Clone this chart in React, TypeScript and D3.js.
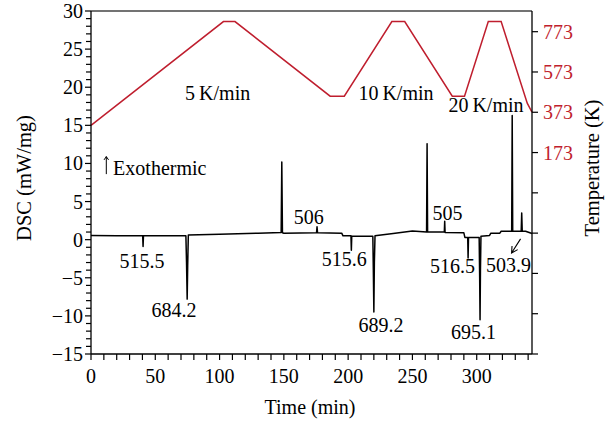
import React from "react";
import * as d3 from "d3";

const W = 609;
const H = 421;

// DSC trace (time in min, heat flow in mW/mg)
const dscTime = [
  0, 20, 40.2, 40.5, 40.8, 60, 73.8, 74.3, 74.8, 75.2, 75.7, 100, 130, 147.9, 148.4, 148.9, 150,
  175.4, 175.8, 176.2, 195, 196, 202.2, 202.5, 202.8, 219.2, 219.6, 220.0, 220.4, 220.9, 235, 250,
  261.0, 261.4, 261.8, 274.8, 275.1, 275.4, 290, 290.8, 293.0, 293.3, 293.6, 301.9, 302.3, 302.6,
  302.9, 303.3, 310, 311, 318, 319, 327.2, 327.6, 328.0, 334.6, 335.0, 335.4, 338, 343,
];
const dscValue = [
  0.55, 0.5, 0.5, -0.9, 0.5, 0.5, 0.5, -3.0, -7.8, -3.4, 0.6, 0.7, 0.85, 0.95, 10.2, 0.9, 0.85,
  0.9, 1.7, 0.9, 0.85, 0.5, 0.5, -1.4, 0.45, 0.45, -4.0, -9.5, -3.0, 0.5, 0.8, 1.15,
  1.0, 12.6, 1.0, 1.0, 2.4, 0.95, 0.9, 0.3, 0.3, -2.4, 0.3, 0.3, -5.0, -10.5,
  -4.0, 0.45, 0.55, 0.85, 0.85, 1.1, 1.1, 16.3, 1.1, 1.1, 3.5, 1.1, 1.1, 0.8,
];

// Temperature program (time in min, temperature in K)
const tempTime = [0, 103, 112, 186, 197, 234, 244, 281, 290.5, 309, 319, 339.3, 343];
const tempKelvin = [308, 823, 823, 453, 453, 823, 823, 453, 453, 823, 823, 418, 373];

// Axes
const xTicks = [0, 50, 100, 150, 200, 250, 300];
const xMinorTicks = d3.range(0, 341, 10);
const yTicks = [-15, -10, -5, 0, 5, 10, 15, 20, 25, 30];
const yMinorTicks = d3.range(-15, 31, 1);
const tempTicks = [773, 573, 373, 173];
const tempUnlabeledTicks = [-27, -227, -427, -627, -827];

// Peak annotations (anchor in data units)
const peakLabels = ["515.5", "684.2", "506", "515.6", "689.2", "505", "516.5", "695.1", "503.9"];
const peakLabelTime = [39.7, 64.6, 169.4, 197, 225.5, 277.3, 281.2, 297.5, 324.8];
const peakLabelValue = [-3.7, -10.1, 2.06, -3.5, -12.1, 2.6, -4.4, -13.0, -4.2];

const rateLabels = ["5\u2009K/min", "10\u2009K/min", "20\u2009K/min"];
const rateLabelTime = [73.2, 208, 278];
const rateLabelValue = [18.3, 18.3, 16.8];

const exoLabel = "Exothermic";
const exoTime = 17.2;
const exoValue = 8.5;
// up arrow in front of "Exothermic": bottom -> top (data units)
const exoArrowTime = [11.9, 11.9];
const exoArrowValue = [8.6, 10.9];

// arrow near 503.9: tail -> tip
const arrowTime = [334.1, 327.1];
const arrowValue = [0.1, -1.75];

const RED = "#bf1e2e";
const FONT = "'Liberation Serif', 'Times New Roman', serif";

function arrowPath(tx: number, ty: number, hx: number, hy: number, hl: number, spread: number) {
  const ang = Math.atan2(ty - hy, tx - hx);
  const a = [hx + hl * Math.cos(ang - spread), hy + hl * Math.sin(ang - spread)];
  const b = [hx + hl * Math.cos(ang + spread), hy + hl * Math.sin(ang + spread)];
  return `M${tx},${ty}L${hx},${hy}M${a[0]},${a[1]}L${hx},${hy}L${b[0]},${b[1]}`;
}

export default function App() {
  const x = d3.scaleLinear().domain([0, 343]).range([91, 532]);
  const y = d3.scaleLinear().domain([-15, 30]).range([354, 11]);
  const yT = d3.scaleLinear().domain([-827, 875.7]).range([354, 11]);

  const dscLine = d3
    .line<number>()
    .x((_, i) => x(dscTime[i]))
    .y((v) => y(v));
  const tempLine = d3
    .line<number>()
    .x((_, i) => x(tempTime[i]))
    .y((v) => yT(v));

  const [x0, x1] = x.range();
  const [yb, yt] = y.range();

  return (
    <svg
      width={W}
      height={H}
      style={{ position: "absolute", left: 0, top: 0, background: "#fff" }}
      fontFamily={FONT}
    >
      <rect x={0} y={0} width={W} height={H} fill="#fff" />

      {/* top frame */}
      <line x1={x0} x2={x1} y1={yt} y2={yt} stroke="#444" strokeWidth={1.3} />

      {/* temperature curve */}
      <path d={tempLine(tempKelvin) || ""} fill="none" stroke={RED} strokeWidth={1.5} />

      {/* DSC curve */}
      <path
        d={dscLine(dscValue) || ""}
        fill="none"
        stroke="#000"
        strokeWidth={1.5}
        strokeLinejoin="round"
      />

      {/* left axis */}
      <line x1={x0} x2={x0} y1={yt} y2={yb} stroke="#000" strokeWidth={1.3} />
      {yMinorTicks.map((t) => (
        <line
          key={"ym" + t}
          x1={x0 - (t % 5 === 0 ? 6 : 5)}
          x2={x0}
          y1={y(t)}
          y2={y(t)}
          stroke="#000"
          strokeWidth={1.2}
        />
      ))}
      {yTicks.map((t) => (
        <text key={"yl" + t} x={x0 - 8} y={y(t) + 7} textAnchor="end" fontSize={20} fill="#000">
          {d3.format("")(t)}
        </text>
      ))}

      {/* bottom axis */}
      <line x1={x0} x2={x1} y1={yb} y2={yb} stroke="#000" strokeWidth={1.3} />
      {xMinorTicks.map((t) => (
        <line
          key={"xm" + t}
          x1={x(t)}
          x2={x(t)}
          y1={yb}
          y2={yb + 6}
          stroke="#000"
          strokeWidth={1.2}
        />
      ))}
      {xTicks.map((t) => (
        <text key={"xl" + t} x={x(t)} y={yb + 29} textAnchor="middle" fontSize={20} fill="#000">
          {t}
        </text>
      ))}

      {/* right axis */}
      <line x1={x1} x2={x1} y1={yt} y2={yb} stroke="#000" strokeWidth={1.3} />
      {[...tempTicks, ...tempUnlabeledTicks].map((t) => (
        <line
          key={"tt" + t}
          x1={x1}
          x2={x1 + 6}
          y1={yT(t)}
          y2={yT(t)}
          stroke="#000"
          strokeWidth={1.2}
        />
      ))}
      {tempTicks.map((t) => (
        <text key={"tl" + t} x={x1 + 11} y={yT(t) + 7} fontSize={20} fill={RED}>
          {t}
        </text>
      ))}

      {/* axis titles */}
      <text x={310} y={414} textAnchor="middle" fontSize={20} fill="#000">
        Time (min)
      </text>
      <text
        transform={`translate(31,178) rotate(-90)`}
        textAnchor="middle"
        fontSize={20.5}
        fill="#000"
      >
        DSC (mW/mg)
      </text>
      <text
        transform={`translate(599,168) rotate(-90)`}
        textAnchor="middle"
        fontSize={20.5}
        fill="#000"
      >
        Temperature (K)
      </text>

      {/* rate labels */}
      {rateLabels.map((s, i) => (
        <text key={s} x={x(rateLabelTime[i])} y={y(rateLabelValue[i])} fontSize={20} fill="#000">
          {s}
        </text>
      ))}

      {/* exothermic */}
      <path
        d={arrowPath(
          x(exoArrowTime[0]),
          y(exoArrowValue[0]),
          x(exoArrowTime[1]),
          y(exoArrowValue[1]),
          4,
          0.6
        )}
        fill="none"
        stroke="#000"
        strokeWidth={1}
      />
      <text x={x(exoTime)} y={y(exoValue)} fontSize={20} fill="#000">
        {exoLabel}
      </text>

      {/* peak labels */}
      {peakLabels.map((s, i) => (
        <text
          key={s}
          x={x(peakLabelTime[i])}
          y={y(peakLabelValue[i])}
          textAnchor="middle"
          fontSize={20}
          fill="#000"
        >
          {s}
        </text>
      ))}

      {/* arrow to 503.9 */}
      <path
        d={arrowPath(x(arrowTime[0]), y(arrowValue[0]), x(arrowTime[1]), y(arrowValue[1]), 7, 0.5)}
        fill="none"
        stroke="#000"
        strokeWidth={1.1}
      />
    </svg>
  );
}
